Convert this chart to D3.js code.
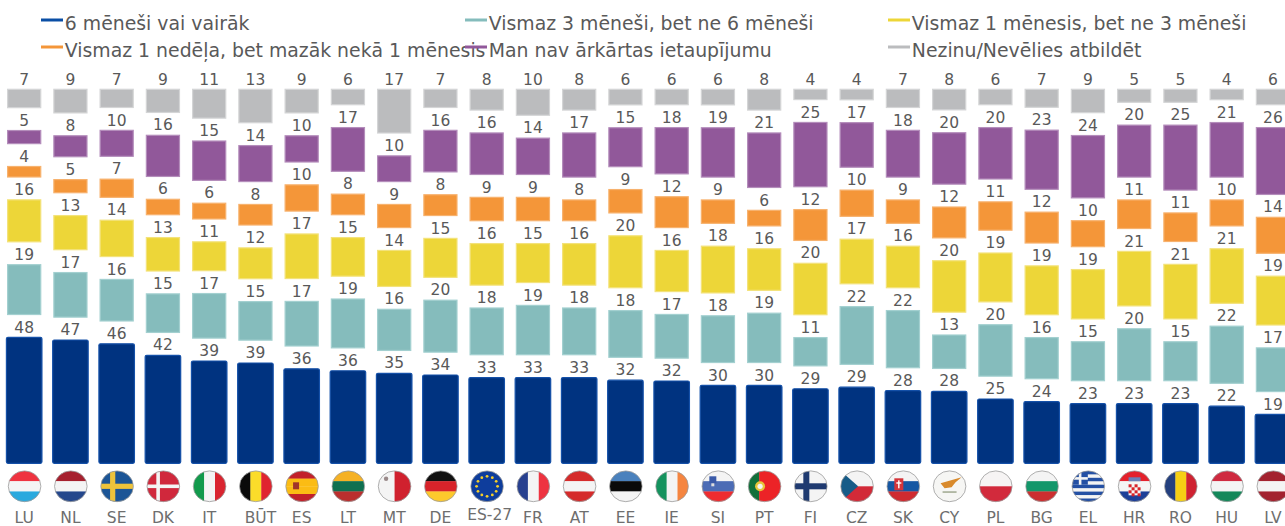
<!DOCTYPE html>
<html><head><meta charset="utf-8">
<script src="https://cdn.jsdelivr.net/npm/d3@7/dist/d3.min.js"></script>
<style>html,body{margin:0;padding:0;background:#fff;overflow:hidden}svg{display:block}text{font-family:"DejaVu Sans",Verdana,sans-serif}</style>
</head><body><svg id="c" width="1285" height="526"></svg>
<script>
const categories=["LU","NL","SE","DK","IT","BŪT","ES","LT","MT","DE","ES-27","FR","AT","EE","IE","SI","PT","FI","CZ","SK","CY","PL","BG","EL","HR","RO","HU","LV"];
const months6=[48,47,46,42,39,39,36,36,35,34,33,33,33,32,32,30,30,29,29,28,28,25,24,23,23,23,22,19];
const months3=[19,17,16,15,17,15,17,19,16,20,18,19,18,18,17,18,19,11,22,22,13,20,16,15,20,15,22,17];
const month1=[16,13,14,13,11,12,17,15,14,15,16,15,16,20,16,18,16,20,17,16,20,19,19,19,21,21,21,19];
const week1=[4,5,7,6,6,8,10,8,9,8,9,9,8,9,12,9,6,12,10,9,12,11,12,10,11,11,10,14];
const noSavings=[5,8,10,16,15,14,10,17,10,16,16,14,17,15,18,19,21,25,17,18,20,20,23,24,20,25,21,26];
const dontKnow=[7,9,7,9,11,13,9,6,17,7,8,10,8,6,6,6,8,4,4,7,8,6,7,9,5,5,4,6];
const seriesNames=["6 mēneši vai vairāk","Vismaz 3 mēneši, bet ne 6 mēneši","Vismaz 1 mēnesis, bet ne 3 mēneši","Vismaz 1 nedēļa, bet mazāk nekā 1 mēnesis","Man nav ārkārtas ietaupījumu","Nezinu/Nevēlies atbildēt"];
const seriesValues=[months6,months3,month1,week1,noSavings,dontKnow];
const fills=["#003380","#85bcbc","#edd638","#f49639","#91589a","#bbbcbe"];
const strokes=["#1450a8","#a3d0d0","#f3e27a","#f7b26e","#b48dbb","#d4d5d6"];
const GAP=8.8, AXIS_MAX=144;

const flagStripes={
LU:["h","#ef3340","#f4f4f4","#2aa9de"],NL:["h","#a6202e","#f4f4f4","#24478c"],SE:["h","#1c5596"],DK:["h","#d0283c"],
IT:["v","#129a4c","#f4f4f4","#d9242f"],"BŪT":["v","#0a0a0a","#fbdc2a","#e0242f"],ES:["h","#c2202a","#fbbc14","#fbbc14","#c2202a"],
LT:["h","#f5b125","#0f7050","#bb2f2e"],MT:["v","#f4f4f4","#d0212e"],DE:["h","#111","#d8232a","#fdc92c"],"ES-27":["h","#0e3d9c"],
FR:["v","#27408f","#f4f4f4","#ee3340"],AT:["h","#d52b2b","#f4f4f4","#d52b2b"],EE:["h","#4a81bd","#0a0a0a","#f4f4f4"],
IE:["v","#14935e","#f4f4f4","#f58540"],SI:["h","#f4f4f4","#4c6cb5","#ee2c30"],PT:["v","#11703a","#ec2327","#ec2327"],
FI:["h","#f4f4f4"],CZ:["h","#f4f4f4","#d22a38"],SK:["h","#f4f4f4","#1557a3","#cf2a30"],CY:["h","#f6f6f4"],PL:["h","#f6f4f4","#d22a3c"],
BG:["h","#f4f4f4","#13976a","#cc2e30"],EL:["h","#f4f4f4"],HR:["h","#e4212c","#f4f4f4","#1d3f98"],RO:["v","#24407f","#f6cf14","#cf2231"],
HU:["h","#cf2a40","#f4f4f4","#14885a"],LV:["h","#a3222f","#f4f4f4","#a3222f"]};

const svg=d3.select("#c");
const x=d3.scaleBand().domain(categories).range([1.05,1296.05]).paddingInner(0.232).paddingOuter(0.116);
const y=d3.scaleLinear().domain([0,AXIS_MAX]).range([463.3,89.3]);
const nf=d3.format("d");
// the printed values are rounded: each column is drawn as its share of its own total
const totals=categories.map((c,i)=>d3.sum(seriesValues,v=>v[i]));

seriesValues.forEach((vals,s)=>{
  const g=svg.append("g");
  const rows=categories.map((c,i)=>{
    const k=100/totals[i];
    let base=0;for(let j=0;j<s;j++)base+=seriesValues[j][i]*k+GAP;
    return {c,v:vals[i],h:vals[i]*k,base};
  });
  const inset=s===0?0:1.2;
  g.selectAll("rect").data(rows).join("rect")
    .attr("x",d=>x(d.c)+inset).attr("width",x.bandwidth()-2*inset)
    .attr("y",d=>y(d.base+d.h)).attr("height",d=>y(d.base)-y(d.base+d.h))
    .attr("rx",s===0?1.5:0)
    .attr("fill",fills[s]).attr("stroke",strokes[s]).attr("stroke-width",1.2);
  g.selectAll("text").data(rows).join("text")
    .attr("x",d=>x(d.c)+x.bandwidth()/2).attr("y",d=>y(d.base+d.h)-4.8)
    .attr("text-anchor","middle").attr("font-size",15.5).attr("fill","#595959").text(d=>nf(d.v));
});

const legendX=[41,465,888], legendY=[20,47];
seriesNames.forEach((n,i)=>{
  const lx=legendX[i%3], ly=legendY[Math.floor(i/3)];
  svg.append("line").attr("x1",lx).attr("x2",lx+22).attr("y1",ly).attr("y2",ly).attr("stroke",i===0?"#0a4ea5":fills[i]).attr("stroke-width",3);
  svg.append("text").attr("x",lx+23.8).attr("y",ly+10).attr("font-size",18.85).attr("fill","#595959").text(n);
});

const defs=svg.append("defs");
const RX=16.3, R=15.4, CY=486.3;
const flags=svg.append("g");
categories.forEach((c,i)=>{
  const cx=x(c)+x.bandwidth()/2+0.4;
  const id="f"+i;
  defs.append("clipPath").attr("id",id).append("ellipse").attr("cx",cx).attr("cy",CY).attr("rx",RX).attr("ry",R);
  const g=flags.append("g").attr("clip-path",`url(#${id})`);
  const spec=flagStripes[c], cols=spec.slice(1), n=cols.length;
  const bandH=d3.scaleBand().domain(d3.range(n)).range([-R,R]);
  const bandV=d3.scaleBand().domain(d3.range(n)).range([-RX,RX]);
  cols.forEach((col,k)=>{
    if(spec[0]==="h")g.append("rect").attr("x",cx-RX).attr("width",2*RX).attr("y",CY+bandH(k)).attr("height",bandH.bandwidth()+.3).attr("fill",col);
    else g.append("rect").attr("y",CY-R).attr("height",2*R).attr("x",cx+bandV(k)).attr("width",bandV.bandwidth()+.3).attr("fill",col);
  });
  const rect=(a,b,w,h,f)=>g.append("rect").attr("x",cx+a).attr("y",CY+b).attr("width",w).attr("height",h).attr("fill",f);
  const dot=(a,b,r,f)=>g.append("circle").attr("cx",cx+a).attr("cy",CY+b).attr("r",r).attr("fill",f);
  if(c==="SE"){rect(-RX,-2.6,2*RX,5.2,"#eec33a");rect(-7,-R,5.2,2*R,"#eec33a");}
  if(c==="DK"){rect(-RX,-1.8,2*RX,3.6,"#f4f4f4");rect(-7,-R,3.6,2*R,"#f4f4f4");}
  if(c==="FI"){rect(-RX,-3,2*RX,6,"#1f3a70");rect(-7.5,-R,6,2*R,"#1f3a70");}
  if(c==="MT"){dot(-8.5,-7.5,2.2,"#9a8a8a");}
  if(c==="ES"){rect(-9,-4,6,7,"#a0332a");}
  if(c==="CZ"){g.append("path").attr("d",`M${cx-RX},${CY-R}L${cx+1},${CY}L${cx-RX},${CY+R}Z`).attr("fill","#175c88");}
  if(c==="SK"){rect(-9,-8,9,12,"#d4343a");rect(-5.2,-6,1.4,8,"#fff");rect(-7,-4,5,1.4,"#fff");}
  if(c==="SI"){rect(-9,-10,7,7,"#3a5aa8");rect(-7,-3,3,3,"#ddd");}
  if(c==="PT"){dot(-4.5,0,5,"#e8c53a");dot(-4.5,0,2.6,"#f4f4f4");}
  if(c==="CY"){g.append("path").attr("d",`M${cx-9},${CY-3}L${cx-2},${CY-5}L${cx+5},${CY-7}L${cx+12},${CY-9}L${cx+6},${CY-4}L${cx+2},${CY+1}L${cx-5},${CY+2}Z`).attr("fill","#d98a2c");rect(-7,5,14,1.5,"#a0a890");}
  if(c==="EL"){d3.range(5).forEach(k=>rect(-RX,-R+k*6.9,2*RX,3.45,"#2450a4"));rect(-RX,-R,RX-0.5,13.8,"#2450a4");rect(-RX,-9.2,RX-0.5,2.6,"#f4f4f4");rect(-9.5,-R,2.6,13.8,"#f4f4f4");}
  if(c==="HR"){rect(-6,-5,12,14,"#f4f4f4");d3.range(4).forEach(r=>d3.range(4).forEach(q=>{if((r+q)%2===0)rect(-6+q*3,-2+r*3,3,3,"#d8232a");}));rect(-6,-9,12,4,"#6a80b8");}
  if(c==="ES-27"){d3.range(12).forEach(k=>{const a=k*Math.PI/6;dot(10.5*Math.cos(a),10*Math.sin(a),1.4,"#f6cf2a");});}
  flags.append("ellipse").attr("cx",cx).attr("cy",CY).attr("rx",RX).attr("ry",R).attr("fill","none").attr("stroke","#9a9a9a").attr("stroke-width",.8);
});

const axis=d3.axisBottom(x).tickSize(0).tickPadding(0);
const ag=svg.append("g").attr("transform","translate(0,512)").call(axis);
ag.select(".domain").remove();
ag.selectAll("text").attr("font-size",15.5).attr("fill","#6e6e6e").attr("font-family",'"DejaVu Sans"').attr("dy","0.71em")
  .attr("dx",d=>d==="BŪT"?5:d==="ES-27"?3:0).attr("y",d=>d==="ES-27"?-3:0);
</script></body></html>
